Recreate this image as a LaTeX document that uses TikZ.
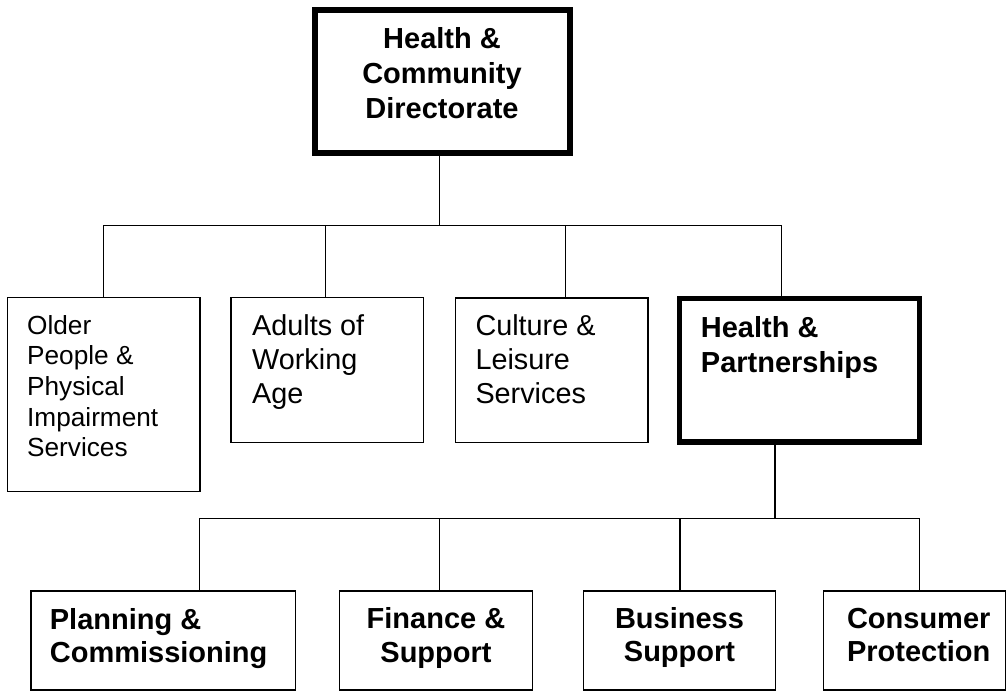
\documentclass[tikz,border=0pt]{standalone}
\usepackage{fontspec}
\setmainfont{Liberation Sans}
\newcommand{\mlines}[2]{\begin{tabular}[t]{@{}#1@{}}#2\end{tabular}}
\begin{document}
\begin{tikzpicture}[x=1pt,y=-1pt,
  box/.style={draw, rectangle, line width=1.4pt, inner sep=0pt},
  thickbox/.style={box, line width=6pt},
  conn/.style={line width=1.4pt, line join=miter},
  txtN/.style={inner sep=0pt, font=\fontsize{28.8}{34}\selectfont},
  txtS/.style={inner sep=0pt, font=\fontsize{26.2}{30.7}\selectfont},
  txtB/.style={inner sep=0pt, font=\fontsize{29}{35}\selectfont\bfseries},
  txtBb/.style={inner sep=0pt, font=\fontsize{29}{33.6}\selectfont\bfseries}]
\useasboundingbox (0,0) rectangle (1007,691);

% boxes
\node[thickbox, minimum width=254.7pt, minimum height=142.7pt] (top) at (442.35,81.65) {};
\node[box, minimum width=192.7pt, minimum height=194pt] (older) at (103.65,394.7) {};
\node[box, minimum width=192.7pt, minimum height=144.6pt] (adults) at (327.35,370) {};
\node[box, minimum width=192.7pt, minimum height=144.4pt] (culture) at (551.65,370.1) {};
\node[thickbox, line width=5.5pt, minimum width=239.8pt, minimum height=143.7pt] (hp) at (799.6,370.15) {};
\node[box, minimum width=264.3pt, minimum height=99pt] (plan) at (163.15,640.5) {};
\node[box, minimum width=192.6pt, minimum height=99pt] (fin) at (436,640.5) {};
\node[box, minimum width=192.4pt, minimum height=99pt] (bus) at (679.5,640.5) {};
\node[box, minimum width=182.4pt, minimum height=99pt] (cons) at (914.5,640.5) {};

% texts
\node[txtB, anchor=base] (tTop) at (442,48.3) {\mlines{c}{Health \&\\Community\\Directorate}};
\node[txtS, anchor=base west] (tOlder) at (27,334) {\mlines{l}{Older\\People \&\\Physical\\Impairment\\Services}};
\node[txtN, anchor=base west] (tAdults) at (252,335.7) {\mlines{l}{Adults of\\Working\\Age}};
\node[txtN, anchor=base west] (tCulture) at (475.3,335.7) {\mlines{l}{Culture \&\\Leisure\\Services}};
\node[txtB, anchor=base west] (tHP) at (700.7,337.7) {\mlines{l}{Health \&\\Partnerships}};
\node[txtBb, anchor=base west] (tPlan) at (49.7,629) {\mlines{l}{Planning \&\\Commissioning}};
\node[txtBb, anchor=base] (tFin) at (436,628.7) {\mlines{c}{Finance \&\\Support}};
\node[txtBb, anchor=base] (tBus) at (679.5,628.3) {\mlines{c}{Business\\Support}};
\node[txtBb, anchor=base] (tCons) at (918.7,628.3) {\mlines{c}{Consumer\\Protection}};

% upper connectors
\coordinate (uT) at (439.5,225.7);
\coordinate (u1) at (103.3,225.7);
\coordinate (u2) at (325.3,225.7);
\coordinate (u3) at (565.7,225.7);
\coordinate (u4) at (781.7,225.7);
\draw[conn] (top.south -| uT) -- (uT);
\draw[conn] (u1 |- older.north) -- (u1) -- (u4) -- (u4 |- hp.north);
\draw[conn] (u2) -- (u2 |- adults.north);
\draw[conn] (u3) -- (u3 |- culture.north);

% lower connectors
\coordinate (lT) at (775,518.3);
\coordinate (l1) at (199.3,518.3);
\coordinate (l2) at (439.3,518.3);
\coordinate (l3) at (680,518.3);
\coordinate (l4) at (919.3,518.3);
\draw[conn] (hp.south -| lT) -- (lT);
\draw[conn] (l1 |- plan.north) -- (l1) -- (l4) -- (l4 |- cons.north);
\draw[conn] (l2) -- (l2 |- fin.north);
\draw[conn] (l3) -- (l3 |- bus.north);
\end{tikzpicture}
\end{document}
